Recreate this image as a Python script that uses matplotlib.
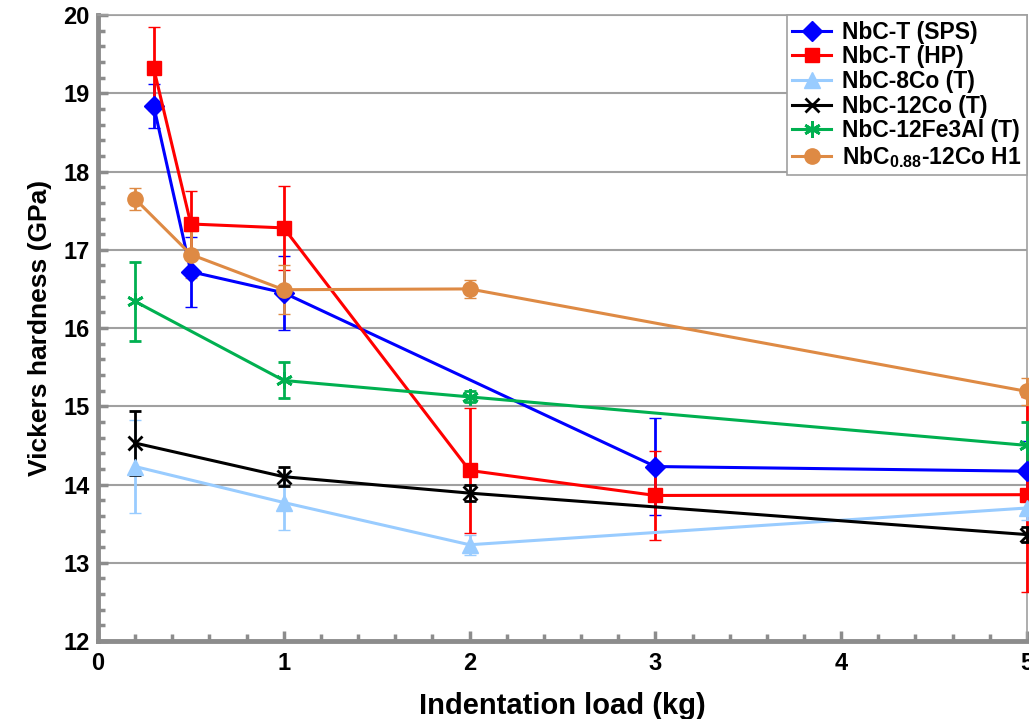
import matplotlib
matplotlib.use('Agg')
import matplotlib.pyplot as plt
from matplotlib.ticker import MultipleLocator

plt.rcParams['font.family'] = ['Liberation Sans', 'DejaVu Sans']
plt.rcParams['font.weight'] = 'bold'
plt.rcParams['mathtext.fontset'] = 'custom'
plt.rcParams['mathtext.bf'] = 'Liberation Sans:bold'
plt.rcParams['mathtext.rm'] = 'Liberation Sans:bold'

# data (load in kg, hardness in GPa, error bar half-width)
load_sps = [0.3, 0.5, 1, 3, 5]
hv_sps = [18.84, 16.72, 16.45, 14.23, 14.17]
err_sps = [0.28, 0.45, 0.47, 0.62, 0.38]

load_hp = [0.3, 0.5, 1, 2, 3, 5]
hv_hp = [19.32, 17.33, 17.28, 14.18, 13.86, 13.87]
err_hp = [0.53, 0.42, 0.54, 0.80, 0.57, 1.25]

load_8co = [0.2, 1, 2, 5]
hv_8co = [14.23, 13.77, 13.23, 13.70]
err_8co = [0.60, 0.35, 0.13, 0.15]

load_12co = [0.2, 1, 2, 5]
hv_12co = [14.53, 14.10, 13.89, 13.36]
err_12co = [0.41, 0.12, 0.10, 0.10]

load_fe = [0.2, 1, 2, 5]
hv_fe = [16.34, 15.33, 15.12, 14.50]
err_fe = [0.50, 0.23, 0.07, 0.30]

load_h1 = [0.2, 0.5, 1, 2, 5]
hv_h1 = [17.65, 16.94, 16.49, 16.50, 15.19]
err_h1 = [0.14, 0.30, 0.31, 0.12, 0.17]

series = [
    ('NbC-T (SPS)', load_sps, hv_sps, err_sps, '#0000FF', 'D', 10),
    ('NbC-T (HP)', load_hp, hv_hp, err_hp, '#FF0000', 's', 10),
    ('NbC-8Co (T)', load_8co, hv_8co, err_8co, '#99CCFF', '^', 11),
    ('NbC-12Co (T)', load_12co, hv_12co, err_12co, '#000000', 'x', 10),
    ('NbC-12Fe3Al (T)', load_fe, hv_fe, err_fe, '#00B050', (6, 2, 0), 12),
    ('NbC$_{0.88}$-12Co H1', load_h1, hv_h1, err_h1, '#DE8A44', 'o', 11),
]

fig = plt.figure(figsize=(10.29, 7.19), dpi=100)
ax = fig.add_axes([0.0952, 0.1085, 0.9028, 0.8705])

handles = []
labels = []
for name, x, y, e, c, m, ms in series:
    cont = ax.errorbar(x, y, yerr=e, color=c, marker=m, markersize=ms, lw=2.2,
                       elinewidth=2.0, capsize=4, capthick=2,
                       markeredgewidth=2 if m in ('x', (6, 2, 0)) else 1,
                       clip_on=False, zorder=3)
    handles.append(cont[0])
    labels.append(name)

ax.set_xlim(0, 5)
ax.set_ylim(12, 20)
ax.xaxis.set_major_locator(MultipleLocator(1))
ax.xaxis.set_minor_locator(MultipleLocator(0.2))
ax.yaxis.set_major_locator(MultipleLocator(1))
ax.yaxis.set_minor_locator(MultipleLocator(0.2))

ax.grid(axis='y', which='major', color='#A0A0A0', lw=1.5)
ax.set_axisbelow(True)
for s in ['left', 'bottom']:
    ax.spines[s].set_color('#8C8C8C')
    ax.spines[s].set_linewidth(3.5)
for s in ['top', 'right']:
    ax.spines[s].set_color('#A0A0A0')
    ax.spines[s].set_linewidth(1.2)

ax.tick_params(which='both', direction='in', color='#8C8C8C', width=2.5, labelsize=17)
ax.tick_params(which='major', length=7)
ax.tick_params(which='minor', length=5)
ax.tick_params(axis='x', pad=8)
ax.tick_params(axis='y', pad=6)

ax.set_xlabel('Indentation load (kg)', fontsize=21, fontweight='bold', labelpad=12)
ax.set_ylabel('Vickers hardness (GPa)', fontsize=19, fontweight='bold', labelpad=8)

leg = ax.legend(handles, labels, loc='upper right', bbox_to_anchor=(1.0, 1.0),
                borderaxespad=0, prop={'size': 16.5, 'weight': 'bold'},
                handlelength=1.7, labelspacing=0.07, borderpad=0.25,
                handletextpad=0.45, fancybox=False, framealpha=1,
                edgecolor='#A0A0A0')
leg.get_frame().set_linewidth(1.2)

fig.savefig('out.png', dpi=100)
